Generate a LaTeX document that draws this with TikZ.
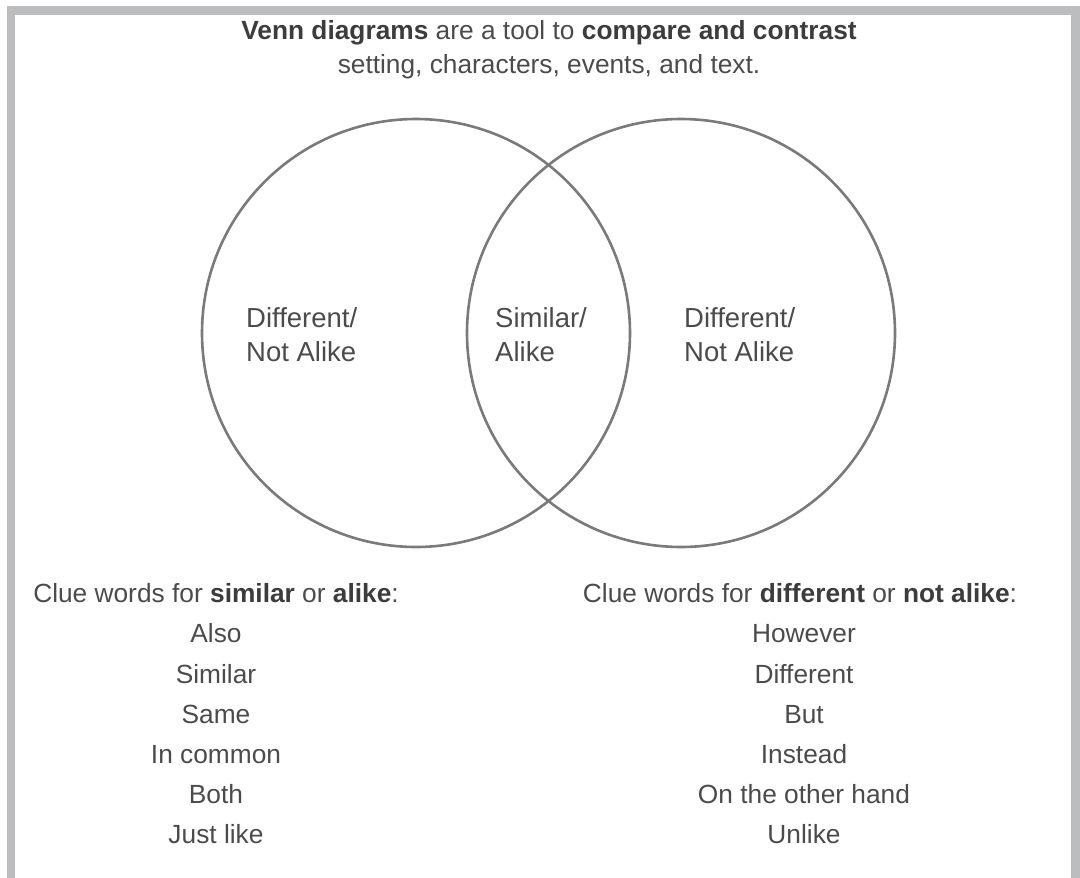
\documentclass[tikz,border=0pt]{standalone}
\usepackage{fontspec}
\setmainfont{Liberation Sans}
\definecolor{framegray}{HTML}{BCBDBF}
\definecolor{ringgray}{HTML}{7A7A7D}
\definecolor{inkgray}{HTML}{4B4B4D}
\definecolor{boldgray}{HTML}{3C3C3E}
\newcommand{\hl}[1]{\textcolor{boldgray}{\textbf{#1}}}
\tikzset{
  frameline/.style={draw=framegray, line width=8.6pt},
  ring/.style={draw=ringgray, line width=2.6pt, circle, minimum size=428pt, inner sep=0pt},
  txt/.style={text=inkgray, font=\fontsize{26.3}{30}\selectfont, inner sep=0pt, anchor=base},
  lbl/.style={text=inkgray, font=\fontsize{27.5}{30}\selectfont, inner sep=0pt, anchor=base west},
}
\begin{document}
\begin{tikzpicture}[x=1pt, y=-1pt]
  \useasboundingbox (0,0) rectangle (1080,878);
  % open frame: top edge and two sides
  \draw[frameline] (11,882) -- (11,10.7) -- (1075.5,10.7) -- (1075.5,882);

  % heading
  \node[txt] (head1) at (549,39) {\hl{Venn diagrams} are a tool to \hl{compare and contrast}};
  \node[txt] (head2) at (549,73) {setting, characters, events, and text.};

  % the two sets
  \node[ring] (setA) at (416,333) {};
  \node[ring] (setB) at (681,333) {};

  % region labels
  \node[lbl] (diffA1) at (246,327) {Different/};
  \node[lbl] (diffA2) at (246,361) {Not Alike};
  \node[lbl] (same1) at (495,327) {Similar/};
  \node[lbl] (same2) at (495,361) {Alike};
  \node[lbl] (diffB1) at (684,327) {Different/};
  \node[lbl] (diffB2) at (684,361) {Not Alike};

  % clue words: similar
  \node[txt] (simhead) at (216,602) {Clue words for \hl{similar} or \hl{alike}:};
  \node[txt] (sim1) at (216,642) {Also};
  \node[txt] (sim2) at (216,683) {Similar};
  \node[txt] (sim3) at (216,723) {Same};
  \node[txt] (sim4) at (216,763) {In common};
  \node[txt] (sim5) at (216,803) {Both};
  \node[txt] (sim6) at (216,843) {Just like};

  % clue words: different
  \node[txt] (difhead) at (800,602) {Clue words for \hl{different} or \hl{not alike}:};
  \node[txt] (dif1) at (804,642) {However};
  \node[txt] (dif2) at (804,683) {Different};
  \node[txt] (dif3) at (804,723) {But};
  \node[txt] (dif4) at (804,763) {Instead};
  \node[txt] (dif5) at (804,803) {On the other hand};
  \node[txt] (dif6) at (804,843) {Unlike};
\end{tikzpicture}
\end{document}
